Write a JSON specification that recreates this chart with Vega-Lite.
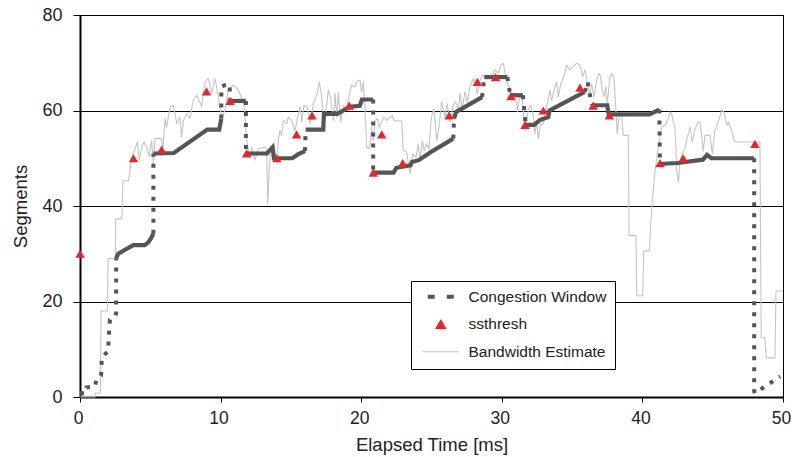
{
  "$schema": "https://vega.github.io/schema/vega-lite/v6.json",
  "width": 703,
  "height": 382,
  "autosize": {"type": "none"},
  "padding": {"left": 80, "top": 15, "right": 9, "bottom": 60},
  "background": "white",
  "config": {
    "font": "Liberation Sans",
    "view": {"stroke": "#000", "strokeWidth": 1},
    "axis": {
      "labelFont": "Liberation Sans", "titleFont": "Liberation Sans",
      "labelFontSize": 18, "titleFontSize": 18.5, "titleFontWeight": "normal",
      "labelColor": "#222", "titleColor": "#222", "labelFlush": false,
      "domainColor": "#000", "tickColor": "#000", "domainWidth": 2
    }
  },
  "datasets": {
    "bw": [
      {"t":0,"v":0},{"t":1.07,"v":0},{"t":1.07,"v":0.8},{"t":1.45,"v":0.8},{"t":1.5,"v":18},{"t":1.95,"v":18},{"t":2.0,"v":29},{"t":2.5,"v":29},{"t":2.55,"v":37.3},{"t":2.98,"v":37.3},{"t":3.05,"v":45.3},{"t":3.45,"v":45.3},{"t":3.67,"v":49.9},{"t":4.08,"v":53.4},{"t":4.22,"v":49.6},{"t":4.39,"v":52.3},{"t":4.55,"v":53.4},{"t":4.74,"v":52.3},{"t":4.91,"v":50.3},{"t":5.1,"v":53.7},{"t":5.22,"v":48.8},{"t":5.33,"v":54.1},{"t":5.81,"v":54.1},{"t":5.9,"v":51.8},{"t":6.05,"v":58.3},{"t":6.16,"v":56.5},{"t":6.4,"v":60.7},{"t":6.64,"v":61.1},{"t":6.88,"v":57.3},{"t":7.11,"v":58.6},{"t":7.23,"v":54.4},{"t":7.35,"v":57.9},{"t":7.59,"v":59.3},{"t":7.82,"v":58.3},{"t":8.06,"v":62.2},{"t":8.3,"v":63.2},{"t":8.53,"v":61.8},{"t":8.65,"v":60.8},{"t":8.89,"v":66},{"t":9.13,"v":66.7},{"t":9.36,"v":63.6},{"t":9.6,"v":66.7},{"t":9.84,"v":62.8},{"t":10.08,"v":58.3},{"t":10.31,"v":60.1},{"t":10.55,"v":64.3},{"t":10.9,"v":65.3},{"t":11.19,"v":64.6},{"t":11.43,"v":63.2},{"t":11.69,"v":60.8},{"t":11.85,"v":53.7},{"t":12.09,"v":50.3},{"t":12.21,"v":52.3},{"t":12.45,"v":49.6},{"t":12.68,"v":52},{"t":13.16,"v":52.3},{"t":13.28,"v":51.6},{"t":13.35,"v":40.4},{"t":13.4,"v":43.9},{"t":13.51,"v":49.5},{"t":13.63,"v":51.6},{"t":13.75,"v":52.3},{"t":13.99,"v":49.5},{"t":14.1,"v":53.7},{"t":14.22,"v":55.8},{"t":14.34,"v":54.8},{"t":14.46,"v":57.9},{"t":14.7,"v":57.2},{"t":14.81,"v":58.6},{"t":15.05,"v":57.9},{"t":15.29,"v":55.8},{"t":15.53,"v":59.3},{"t":15.65,"v":60.7},{"t":15.77,"v":57.6},{"t":15.93,"v":61.1},{"t":16.17,"v":60.7},{"t":16.36,"v":57.2},{"t":16.6,"v":61.4},{"t":16.88,"v":63.6},{"t":17.02,"v":66},{"t":17.19,"v":62.9},{"t":17.31,"v":57.9},{"t":17.47,"v":59.3},{"t":17.66,"v":64.3},{"t":17.83,"v":62.5},{"t":18.02,"v":57.9},{"t":18.14,"v":63.6},{"t":18.25,"v":58.6},{"t":18.37,"v":63.9},{"t":18.54,"v":57.6},{"t":18.73,"v":61.1},{"t":18.97,"v":60.7},{"t":19.2,"v":63.9},{"t":19.32,"v":65.3},{"t":19.56,"v":64.9},{"t":19.72,"v":66.2},{"t":19.91,"v":66.4},{"t":20.03,"v":63.9},{"t":20.15,"v":66},{"t":20.27,"v":60.7},{"t":20.39,"v":52.3},{"t":20.55,"v":52},{"t":20.67,"v":53.7},{"t":20.74,"v":56.5},{"t":20.86,"v":53.7},{"t":20.98,"v":57.9},{"t":21.15,"v":58.3},{"t":21.27,"v":56.5},{"t":21.46,"v":57.6},{"t":21.62,"v":58.6},{"t":21.81,"v":57.9},{"t":22.05,"v":58.6},{"t":22.21,"v":59},{"t":22.33,"v":57.9},{"t":22.88,"v":57.8},{"t":22.99,"v":51.6},{"t":23.23,"v":51.3},{"t":23.47,"v":46.7},{"t":23.66,"v":50.9},{"t":23.9,"v":50.2},{"t":24.06,"v":53},{"t":24.18,"v":49.5},{"t":24.35,"v":53.7},{"t":24.47,"v":51.6},{"t":24.65,"v":53},{"t":24.82,"v":51.9},{"t":24.99,"v":58.6},{"t":25.18,"v":60.4},{"t":25.37,"v":53.7},{"t":25.53,"v":56.5},{"t":25.72,"v":61.8},{"t":25.96,"v":58.6},{"t":26.12,"v":61.4},{"t":26.31,"v":57.6},{"t":26.55,"v":61.1},{"t":26.72,"v":61.8},{"t":26.91,"v":60.1},{"t":27.03,"v":63.5},{"t":27.19,"v":60.4},{"t":27.38,"v":63.9},{"t":27.55,"v":61.8},{"t":27.74,"v":65},{"t":27.98,"v":66.7},{"t":28.09,"v":66},{"t":28.26,"v":63.5},{"t":28.45,"v":66.4},{"t":28.62,"v":67.4},{"t":28.92,"v":67.1},{"t":29.16,"v":67.1},{"t":29.32,"v":67.6},{"t":29.51,"v":68.5},{"t":29.75,"v":67.8},{"t":29.92,"v":69.5},{"t":30.11,"v":69.9},{"t":30.23,"v":67.8},{"t":30.39,"v":65.6},{"t":30.54,"v":64.8},{"t":30.63,"v":62.8},{"t":30.77,"v":63.5},{"t":30.99,"v":63.2},{"t":31.11,"v":59.7},{"t":31.29,"v":63.2},{"t":31.46,"v":62.5},{"t":31.65,"v":55.8},{"t":31.89,"v":60.1},{"t":32.05,"v":61.1},{"t":32.24,"v":59},{"t":32.36,"v":55.1},{"t":32.48,"v":57.6},{"t":32.6,"v":54.1},{"t":32.76,"v":57.2},{"t":32.95,"v":57.2},{"t":33.12,"v":60.1},{"t":33.24,"v":61.4},{"t":33.43,"v":64.3},{"t":33.55,"v":62.1},{"t":33.71,"v":64.3},{"t":33.9,"v":66},{"t":34.02,"v":62.8},{"t":34.19,"v":65.6},{"t":34.42,"v":67.1},{"t":34.61,"v":69.5},{"t":34.85,"v":68.5},{"t":35.09,"v":69.2},{"t":35.32,"v":69.9},{"t":35.56,"v":69.5},{"t":35.75,"v":67.1},{"t":35.92,"v":68.5},{"t":36.08,"v":65.6},{"t":36.27,"v":63.5},{"t":36.39,"v":65.6},{"t":36.56,"v":62.8},{"t":36.75,"v":66.4},{"t":36.91,"v":67.8},{"t":37.03,"v":67.1},{"t":37.15,"v":63.9},{"t":37.27,"v":62.8},{"t":37.39,"v":65},{"t":37.5,"v":61.4},{"t":37.69,"v":67.1},{"t":37.86,"v":67.8},{"t":37.98,"v":66.4},{"t":38.09,"v":61.4},{"t":38.21,"v":55.1},{"t":38.35,"v":59.5},{"t":38.52,"v":59},{"t":38.64,"v":54.8},{"t":39.0,"v":54.8},{"t":39.05,"v":33.8},{"t":39.54,"v":33.8},{"t":39.6,"v":21.2},{"t":40.02,"v":21.2},{"t":40.1,"v":30.6},{"t":40.49,"v":30.6},{"t":40.66,"v":39.7},{"t":40.9,"v":47.4},{"t":41.13,"v":52.3},{"t":41.37,"v":56.5},{"t":41.61,"v":56.9},{"t":41.84,"v":58.3},{"t":41.96,"v":59.7},{"t":42.08,"v":59.3},{"t":42.2,"v":57.6},{"t":42.32,"v":56.5},{"t":42.44,"v":47.4},{"t":42.56,"v":45},{"t":42.67,"v":49.5},{"t":42.91,"v":51.6},{"t":43.03,"v":52},{"t":43.2,"v":54.4},{"t":43.39,"v":56.5},{"t":43.55,"v":53.4},{"t":43.74,"v":56.2},{"t":43.98,"v":57.6},{"t":44.1,"v":57.6},{"t":44.22,"v":54.4},{"t":44.33,"v":51.6},{"t":44.45,"v":54.8},{"t":44.81,"v":54.8},{"t":44.97,"v":50.9},{"t":45.16,"v":55.8},{"t":45.4,"v":57.6},{"t":45.64,"v":60.1},{"t":45.8,"v":59.7},{"t":45.99,"v":56.9},{"t":46.11,"v":57.6},{"t":46.35,"v":55.8},{"t":46.52,"v":53.7},{"t":46.71,"v":53.4},{"t":48.36,"v":53.4},{"t":48.45,"v":12.4},{"t":48.72,"v":12.4},{"t":48.8,"v":8.2},{"t":49.43,"v":8.2},{"t":49.5,"v":22.2},{"t":50,"v":22.2}
    ],
    "cw": [
      {"t":0,"v":0.8,"seg":1,"kind":"d"},{"t":0.4,"v":0.8,"seg":1,"kind":"d"},{"t":0.45,"v":2,"seg":1,"kind":"d"},{"t":1.07,"v":2.2,"seg":1,"kind":"d"},{"t":1.15,"v":3.5,"seg":1,"kind":"d"},{"t":1.5,"v":4.5,"seg":1,"kind":"d"},{"t":1.55,"v":8.3,"seg":1,"kind":"d"},{"t":2.0,"v":9.6,"seg":1,"kind":"d"},{"t":2.05,"v":12.8,"seg":1,"kind":"d"},{"t":2.13,"v":16.2,"seg":1,"kind":"d"},{"t":2.5,"v":17,"seg":1,"kind":"d"},{"t":2.57,"v":17.5,"seg":1,"kind":"d"},{"t":2.57,"v":29,"seg":1,"kind":"d"},
      {"t":2.57,"v":29,"seg":2,"kind":"s"},{"t":2.72,"v":30,"seg":2,"kind":"s"},{"t":3.3,"v":31,"seg":2,"kind":"s"},{"t":3.8,"v":31.8,"seg":2,"kind":"s"},{"t":4.6,"v":31.8,"seg":2,"kind":"s"},{"t":4.86,"v":32.4,"seg":2,"kind":"s"},{"t":5.1,"v":33.5,"seg":2,"kind":"s"},{"t":5.22,"v":34.2,"seg":2,"kind":"s"},
      {"t":5.22,"v":34.2,"seg":3,"kind":"d"},{"t":5.22,"v":51,"seg":3,"kind":"d"},
      {"t":5.22,"v":51,"seg":4,"kind":"s"},{"t":6.67,"v":51.1,"seg":4,"kind":"s"},{"t":9.05,"v":56,"seg":4,"kind":"s"},{"t":9.9,"v":56,"seg":4,"kind":"s"},{"t":10.05,"v":58.3,"seg":4,"kind":"s"},
      {"t":10.05,"v":58.3,"seg":5,"kind":"d"},{"t":10.05,"v":65,"seg":5,"kind":"d"},{"t":10.3,"v":65.3,"seg":5,"kind":"d"},{"t":10.65,"v":65.5,"seg":5,"kind":"d"},{"t":10.65,"v":62,"seg":5,"kind":"d"},
      {"t":10.65,"v":62,"seg":8,"kind":"s"},{"t":11.8,"v":62,"seg":8,"kind":"s"},
      {"t":11.8,"v":62,"seg":9,"kind":"d"},{"t":11.8,"v":51,"seg":9,"kind":"d"},
      {"t":11.8,"v":51,"seg":10,"kind":"s"},{"t":13.3,"v":51,"seg":10,"kind":"s"},{"t":13.7,"v":52.3,"seg":10,"kind":"s"},{"t":13.8,"v":50,"seg":10,"kind":"s"},{"t":15.1,"v":50,"seg":10,"kind":"s"},{"t":15.5,"v":50.8,"seg":10,"kind":"s"},{"t":16.0,"v":51.5,"seg":10,"kind":"s"},
      {"t":16.0,"v":51.5,"seg":11,"kind":"d"},{"t":16.05,"v":56,"seg":11,"kind":"d"},
      {"t":16.05,"v":56,"seg":12,"kind":"s"},{"t":17.3,"v":56,"seg":12,"kind":"s"},{"t":17.35,"v":59.3,"seg":12,"kind":"s"},{"t":18.3,"v":59.3,"seg":12,"kind":"s"},{"t":19.2,"v":60.8,"seg":12,"kind":"s"},{"t":19.9,"v":61,"seg":12,"kind":"s"},{"t":20.05,"v":62.3,"seg":12,"kind":"s"},{"t":20.85,"v":62.3,"seg":12,"kind":"s"},
      {"t":20.85,"v":62.3,"seg":13,"kind":"d"},{"t":20.85,"v":47,"seg":13,"kind":"d"},
      {"t":20.85,"v":47,"seg":14,"kind":"s"},{"t":22.3,"v":47,"seg":14,"kind":"s"},{"t":22.5,"v":48,"seg":14,"kind":"s"},{"t":23.5,"v":48.5,"seg":14,"kind":"s"},{"t":23.6,"v":49.2,"seg":14,"kind":"s"},{"t":24.1,"v":49.6,"seg":14,"kind":"s"},{"t":24.9,"v":51.2,"seg":14,"kind":"s"},{"t":26.55,"v":54.1,"seg":14,"kind":"s"},
      {"t":26.55,"v":54.1,"seg":15,"kind":"d"},{"t":26.6,"v":58.3,"seg":15,"kind":"d"},
      {"t":26.6,"v":58.3,"seg":16,"kind":"s"},{"t":26.75,"v":59.7,"seg":16,"kind":"s"},{"t":28.6,"v":62.8,"seg":16,"kind":"s"},
      {"t":28.6,"v":62.8,"seg":17,"kind":"d"},{"t":28.75,"v":67,"seg":17,"kind":"d"},
      {"t":28.75,"v":67,"seg":18,"kind":"s"},{"t":30.4,"v":67,"seg":18,"kind":"s"},
      {"t":30.4,"v":67,"seg":19,"kind":"d"},{"t":30.6,"v":63.2,"seg":19,"kind":"d"},
      {"t":30.6,"v":63.2,"seg":20,"kind":"s"},{"t":31.5,"v":63.2,"seg":20,"kind":"s"},
      {"t":31.5,"v":63.2,"seg":21,"kind":"d"},{"t":31.7,"v":57,"seg":21,"kind":"d"},
      {"t":31.7,"v":57,"seg":22,"kind":"s"},{"t":32.3,"v":57,"seg":22,"kind":"s"},{"t":32.7,"v":58,"seg":22,"kind":"s"},{"t":33.3,"v":58.6,"seg":22,"kind":"s"},{"t":33.4,"v":60,"seg":22,"kind":"s"},{"t":35.9,"v":63.9,"seg":22,"kind":"s"},
      {"t":35.9,"v":63.9,"seg":23,"kind":"d"},{"t":36.1,"v":66,"seg":23,"kind":"d"},{"t":36.4,"v":61.1,"seg":23,"kind":"d"},
      {"t":36.4,"v":61.1,"seg":24,"kind":"s"},{"t":37.5,"v":61.1,"seg":24,"kind":"s"},{"t":37.6,"v":59.2,"seg":24,"kind":"s"},{"t":40.5,"v":59.2,"seg":24,"kind":"s"},{"t":41.2,"v":60.2,"seg":24,"kind":"s"},
      {"t":41.2,"v":60.2,"seg":25,"kind":"d"},{"t":41.25,"v":48.8,"seg":25,"kind":"d"},
      {"t":41.25,"v":48.8,"seg":26,"kind":"s"},{"t":42.5,"v":49,"seg":26,"kind":"s"},{"t":44.3,"v":49.7,"seg":26,"kind":"s"},{"t":44.6,"v":50.7,"seg":26,"kind":"s"},{"t":44.9,"v":50,"seg":26,"kind":"s"},{"t":47.95,"v":50,"seg":26,"kind":"s"},
      {"t":47.95,"v":50,"seg":27,"kind":"d"},{"t":47.95,"v":1.2,"seg":27,"kind":"d"},{"t":48.0,"v":0.8,"seg":27,"kind":"d"},{"t":49.8,"v":4.3,"seg":27,"kind":"d"}
    ],
    "ss": [
      {"t":0,"v":30},{"t":3.8,"v":50},{"t":5.8,"v":51.8},{"t":9.0,"v":64},{"t":10.67,"v":62},{"t":11.85,"v":51},{"t":14.0,"v":50},{"t":15.4,"v":55},{"t":16.5,"v":59},{"t":19.15,"v":61},{"t":20.86,"v":47},{"t":21.46,"v":55},{"t":22.95,"v":49},{"t":26.25,"v":59},{"t":28.26,"v":66},{"t":29.56,"v":67},{"t":30.65,"v":63},{"t":31.65,"v":57},{"t":32.95,"v":60},{"t":35.56,"v":64.8},{"t":36.5,"v":61},{"t":37.65,"v":59},{"t":41.25,"v":49},{"t":42.9,"v":50},{"t":48.0,"v":53}
    ]
  },
  "encoding": {
    "x": {"field": "t", "type": "quantitative",
      "scale": {"domain": [0, 50], "nice": false},
      "axis": {"values": [0, 10, 20, 30, 40, 50], "title": "Elapsed Time [ms]", "grid": false, "tickSize": 5, "labelPadding": 7, "labelOffset": -2, "labelFontSize": 17.5, "titlePadding": 9}},
    "y": {"field": "v", "type": "quantitative",
      "scale": {"domain": [0, 80], "nice": false},
      "axis": {"values": [0, 20, 40, 60, 80], "title": "Segments", "grid": true, "gridColor": "#000", "gridWidth": 1, "gridOpacity": 1, "tickSize": 7, "labelPadding": 11, "titlePadding": 11}}
  },
  "layer": [
    {
      "data": {"name": "bw"},
      "mark": {"type": "line", "strokeWidth": 1.1, "strokeJoin": "round"},
      "encoding": {
        "order": {"value": null},
        "color": {"datum": "Bandwidth Estimate",
          "scale": {"domain": ["Congestion Window", "ssthresh", "Bandwidth Estimate"], "range": ["#555555", "#e8262a", "#c4c4c4"]},
          "legend": {
            "orient": "none", "legendX": 331, "legendY": 266, "title": null,
            "strokeColor": "#000", "fillColor": "#fff", "padding": 8,
            "labelFont": "Liberation Sans", "labelFontSize": 15.5, "labelColor": "#222",
            "symbolSize": 256, "symbolOffset": 14, "labelOffset": 20, "rowPadding": 10.5,
            "encode": {"symbols": {"update": {
              "shape": {"signal": "datum.value === 'ssthresh' ? 'triangle-up' : 'stroke'"},
              "fill": {"signal": "datum.value === 'ssthresh' ? '#e8262a' : 'transparent'"},
              "stroke": {"signal": "datum.value === 'ssthresh' ? 'transparent' : (datum.value === 'Congestion Window' ? '#555555' : '#c4c4c4')"},
              "strokeWidth": {"signal": "datum.value === 'Congestion Window' ? 4 : 1.2"},
              "strokeDash": {"signal": "datum.value === 'Congestion Window' ? [7, 12] : [1, 0]"},
              "size": {"signal": "datum.value === 'ssthresh' ? 90 : (datum.value === 'Congestion Window' ? 676 : 1296)"},
              "opacity": {"value": 1}
            }}}
          }}
      }
    },
    {
      "data": {"name": "cw"},
      "transform": [{"filter": "datum.kind === 's'"}],
      "mark": {"type": "line", "strokeWidth": 4.2, "strokeCap": "butt"},
      "encoding": {
        "order": {"value": null},
        "detail": {"field": "seg", "type": "nominal"},
        "color": {"datum": "Congestion Window"}
      }
    },
    {
      "data": {"name": "cw"},
      "transform": [{"filter": "datum.kind === 'd'"}],
      "mark": {"type": "line", "strokeWidth": 4, "strokeCap": "butt", "strokeDash": [4, 7]},
      "encoding": {
        "order": {"value": null},
        "detail": {"field": "seg", "type": "nominal"},
        "color": {"datum": "Congestion Window"}
      }
    },
    {
      "data": {"name": "ss"},
      "mark": {"type": "point", "shape": "triangle-up", "filled": true, "size": 90, "opacity": 1},
      "encoding": {
        "color": {"datum": "ssthresh"}
      }
    }
  ]
}
